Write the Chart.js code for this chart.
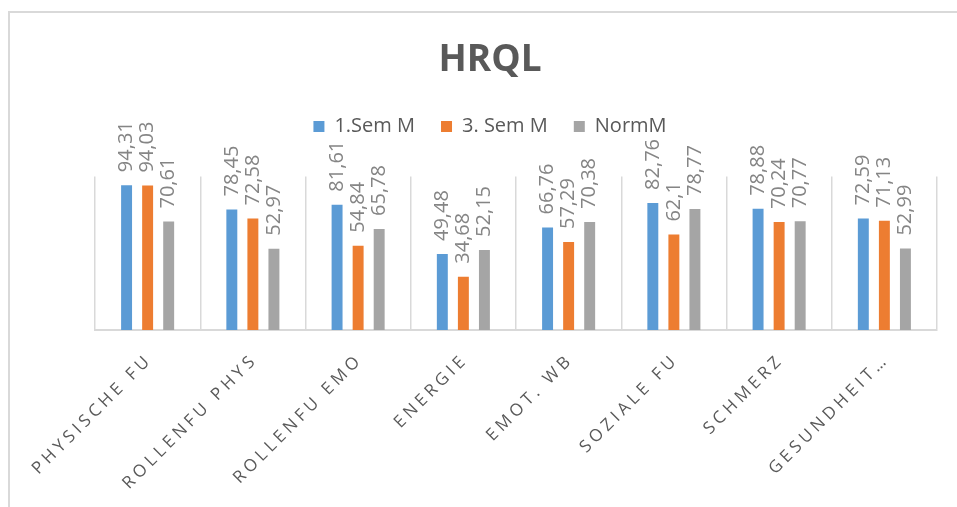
<!DOCTYPE html>
<html>
<head>
<meta charset="utf-8">
<script src="https://cdn.jsdelivr.net/npm/chart.js@4.4.1/dist/chart.umd.min.js"></script>
<style>
  html, body { margin: 0; padding: 0; background: #fff; }
  #wrap { position: relative; width: 957px; height: 507px; }
  #frame { position: absolute; left: 8px; top: 11px; right: -10px; bottom: -10px;
           border-top: 2px solid #d9d9d9; border-left: 2px solid #d9d9d9; pointer-events: none; }
  canvas { position: absolute; left: 0; top: 0; }
</style>
</head>
<body>
<div id="wrap">
  <canvas id="hrql" width="957" height="507"></canvas>
  <div id="frame"></div>
</div>
<script>
// === Data ===
const categories = ['PHYSISCHE FU', 'ROLLENFU PHYS', 'ROLLENFU EMO', 'ENERGIE',
                    'EMOT. WB', 'SOZIALE FU', 'SCHMERZ', 'GESUNDHEIT…'];
const sem1 = [94.31, 78.45, 81.61, 49.48, 66.76, 82.76, 78.88, 72.59];
const sem3 = [94.03, 72.58, 54.84, 34.68, 57.29, 62.1, 70.24, 71.13];
const norm = [70.61, 52.97, 65.78, 52.15, 70.38, 78.77, 70.77, 52.99];
const seriesNames = ['1.Sem M', '3. Sem M', 'NormM'];

const FONT = "'Open Sans', 'DejaVu Sans', sans-serif";

// leave a gap between legend and plot, like the original
const legendGap = {
    id: 'legendGap',
    afterInit(chart) {
        const fit = chart.legend.fit;
        chart.legend.fit = function () {
            fit.call(this);
            this.height += 30;
        };
    }
};

// value labels above bars, rotated, German decimal comma
const valueLabels = {
    id: 'valueLabels',
    afterDatasetsDraw(chart) {
        const ctx = chart.ctx;
        ctx.save();
        ctx.font = '20px ' + FONT;
        ctx.fillStyle = '#858585';
        ctx.textAlign = 'left';
        ctx.textBaseline = 'middle';
        chart.data.datasets.forEach((ds, i) => {
            chart.getDatasetMeta(i).data.forEach((bar, j) => {
                const txt = String(ds.data[j]).replace('.', ',');
                ctx.save();
                ctx.translate(bar.x, bar.y - 13);
                ctx.rotate(-Math.PI / 2);
                ctx.fillText(txt, 0, 0);
                ctx.restore();
            });
        });
        ctx.restore();
    }
};

// slanted category labels with letter spacing
const catLabels = {
    id: 'catLabels',
    afterDraw(chart) {
        const ctx = chart.ctx;
        const xs = chart.scales.x;
        ctx.save();
        ctx.font = '17px ' + FONT;
        ctx.fillStyle = '#595959';
        ctx.letterSpacing = '4px';
        ctx.textAlign = 'right';
        ctx.textBaseline = 'middle';
        categories.forEach((c, i) => {
            ctx.save();
            ctx.translate(xs.getPixelForTick(i) + 2, chart.chartArea.bottom + 27);
            ctx.rotate(-Math.PI / 4);
            ctx.fillText(c, 0, 0);
            ctx.restore();
        });
        ctx.restore();
    }
};

const ctx = document.getElementById('hrql').getContext('2d');
new Chart(ctx, {
    type: 'bar',
    data: {
        labels: categories,
        datasets: [
            { label: seriesNames[0], data: sem1, backgroundColor: '#5b9bd5' },
            { label: seriesNames[1], data: sem3, backgroundColor: '#ed7d31' },
            { label: seriesNames[2], data: norm, backgroundColor: '#a5a5a5' }
        ]
    },
    options: {
        responsive: false,
        animation: false,
        categoryPercentage: 0.6,
        barPercentage: 0.52,
        layout: { padding: { left: 43, right: 20, top: 0, bottom: 177 } },
        scales: {
            x: {
                grid: { color: '#d9d9d9', lineWidth: 1.5, drawTicks: false },
                border: { color: '#d9d9d9', width: 2 },
                ticks: { display: false }
            },
            y: {
                min: 0, max: 100,
                grid: { display: false },
                border: { display: false },
                ticks: { display: false },
                afterFit(scale) { scale.width = 52; }
            }
        },
        plugins: {
            tooltip: { enabled: false },
            title: {
                display: true,
                text: 'HRQL',
                color: '#595959',
                font: { family: FONT, size: 37, weight: 'bold' },
                padding: { top: 38, bottom: 8 }
            },
            legend: {
                labels: {
                    color: '#595959',
                    font: { family: FONT, size: 20 },
                    boxWidth: 11,
                    boxHeight: 11,
                    padding: 26
                }
            }
        }
    },
    plugins: [legendGap, valueLabels, catLabels]
});
</script>
</body>
</html>
